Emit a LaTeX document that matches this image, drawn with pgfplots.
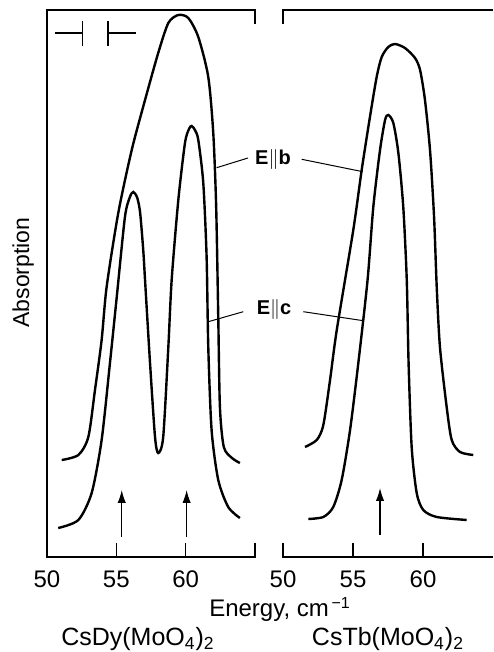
\documentclass[border=0pt]{standalone}
\usepackage{pgfplots}
\pgfplotsset{compat=1.18}
\usepackage{fontspec}
\setmainfont{Liberation Sans}
\usetikzlibrary{arrows.meta}

% y values are in arbitrary absorption units (0 = bottom of frame)
\pgfplotsset{
  panel/.style={
    scale only axis, height=273.5pt,
    xmin=50, xmax=65, ymin=0, ymax=547,
    axis line style={draw=none},
    xtick={50,55,60}, ytick=\empty,
    tick pos=left, tick align=inside, major tick length=7pt,
    tick style={black, line width=0.6pt},
    xticklabel style={anchor=base, yshift=-15.5pt, font=\fontsize{12}{14}\selectfont},
    /pgf/number format/assume math mode=true,
    clip=false, anchor=south west,
  },
  spec/.style={smooth, tension=0.45, no marks, black, line width=1.2pt},
}
\tikzset{
  boxline/.style={black, line width=0.6pt},
  peakarr/.style={black, line width=0.6pt, -{Latex[length=6.5pt,width=4.2pt]}},
}

\begin{document}
\begin{tikzpicture}
\path[use as bounding box] (0,0) rectangle (246.5pt,326pt);

% CsDy(MoO4)2
\begin{axis}[panel, at={(23.5pt,47.5pt)}, width=104pt,
  ylabel={Absorption},
  ylabel style={at={(axis description cs:-0.115,0.52)}, anchor=center, font=\fontsize{11.5}{13}\selectfont}]
% E || b
\addplot[spec] coordinates {
(51.06,97) (52.26,102) (52.98,120) (53.46,167) (53.94,217) (54.30,270)
(55.14,344) (56.11,407) (57.07,457) (58.02,504) (58.75,534) (59.47,542)
(60.19,539) (60.91,520) (61.63,480) (61.99,424) (62.20,350)
(62.35,240) (62.47,150) (62.75,110) (63.34,99) (63.91,94)};
% E || c
\addplot[spec] coordinates {
(50.81,29) (52.26,37) (53.22,64) (53.94,117) (54.54,194) (55.03,260)
(55.62,340) (55.98,360) (56.22,365) (56.49,360) (56.71,345) (56.94,307)
(57.07,277) (57.43,194) (57.79,120) (58.02,104) (58.38,120) (58.75,210)
(58.99,277) (59.47,357) (59.95,414) (60.24,428) (60.43,431) (60.67,427)
(60.91,417) (61.27,374) (61.51,300) (61.63,210) (61.87,127)
(62.35,77) (63.07,50) (63.91,39)};
\draw[peakarr] (axis cs:55.39,20) -- (axis cs:55.39,67);
\draw[peakarr] (axis cs:60.07,20) -- (axis cs:60.07,67);
% resolution mark
\draw[boxline, line width=0.8pt] (axis cs:50.58,523.7) -- (axis cs:52.55,523.7);
\draw[boxline, line width=0.8pt] (axis cs:52.55,511.3) -- (axis cs:52.55,536.3);
\draw[boxline, line width=0.8pt] (axis cs:54.42,511.3) -- (axis cs:54.42,536.3);
\draw[boxline, line width=0.8pt] (axis cs:54.42,523.7) -- (axis cs:56.40,523.7);
\end{axis}

% CsTb(MoO4)2
\begin{axis}[panel, at={(141.5pt,47.5pt)}, width=105pt]
% E || b
\addplot[spec] coordinates {
(51.57,110) (52.41,117) (52.88,132) (53.36,177) (53.84,227)
(55.02,327) (55.62,387) (56.21,440) (56.69,480) (57.05,500)
(57.52,510) (58.00,513) (58.71,509) (59.43,499) (59.79,487) (60.14,457)
(60.50,407) (60.79,340) (60.98,270) (61.21,210) (61.69,150) (62.05,117)
(62.64,105) (63.59,102)};
% E || c
\addplot[spec] coordinates {
(51.81,38) (52.88,40) (53.59,50) (54.19,77) (54.79,127) (55.38,194)
(56.04,277) (56.45,350) (56.93,407) (57.29,437) (57.52,442)
(57.88,434) (58.24,404) (58.59,350) (58.84,277) (58.97,194) (59.19,110)
(59.55,64) (60.02,47) (60.98,40) (63.12,37)};
\draw[peakarr] (axis cs:56.93,22) -- (axis cs:56.93,69);
\end{axis}

% broken frame of the two panels
\draw[boxline] (127.5pt,54.5pt) -- (127.5pt,47.5pt) -- (23.5pt,47.5pt) -- (23.5pt,321pt) -- (127.5pt,321pt) -- (127.5pt,314pt);
\draw[boxline] (141.5pt,314pt) -- (141.5pt,321pt) -- (246.5pt,321pt);
\draw[boxline] (141.5pt,54.5pt) -- (141.5pt,47.5pt) -- (246.5pt,47.5pt);

% polarisation labels and leaders
\node[font=\fontsize{10}{12}\selectfont] at (136.5pt,246pt) {\textbf{E}$\|$\textbf{b}};
\draw[boxline, line width=0.5pt] (108.35pt,242.15pt) -- (124pt,247pt);
\draw[boxline, line width=0.5pt] (150.85pt,246.35pt) -- (181.35pt,240.15pt);
\node[font=\fontsize{10}{12}\selectfont] at (137pt,171pt) {\textbf{E}$\|$\textbf{c}};
\draw[boxline, line width=0.5pt] (104.15pt,165.15pt) -- (121.65pt,170.15pt);
\draw[boxline, line width=0.5pt] (151.65pt,170.15pt) -- (181.65pt,165.65pt);

\node[anchor=base, font=\fontsize{12}{14}\selectfont] at (140pt,17.5pt) {Energy, cm\textsuperscript{\,−1}};
\node[anchor=base, font=\fontsize{12.5}{14}\selectfont] at (69pt,3pt) {CsDy(MoO\textsubscript{4})\textsubscript{2}};
\node[anchor=base, font=\fontsize{12.5}{14}\selectfont] at (194pt,3pt) {CsTb(MoO\textsubscript{4})\textsubscript{2}};
\end{tikzpicture}
\end{document}
